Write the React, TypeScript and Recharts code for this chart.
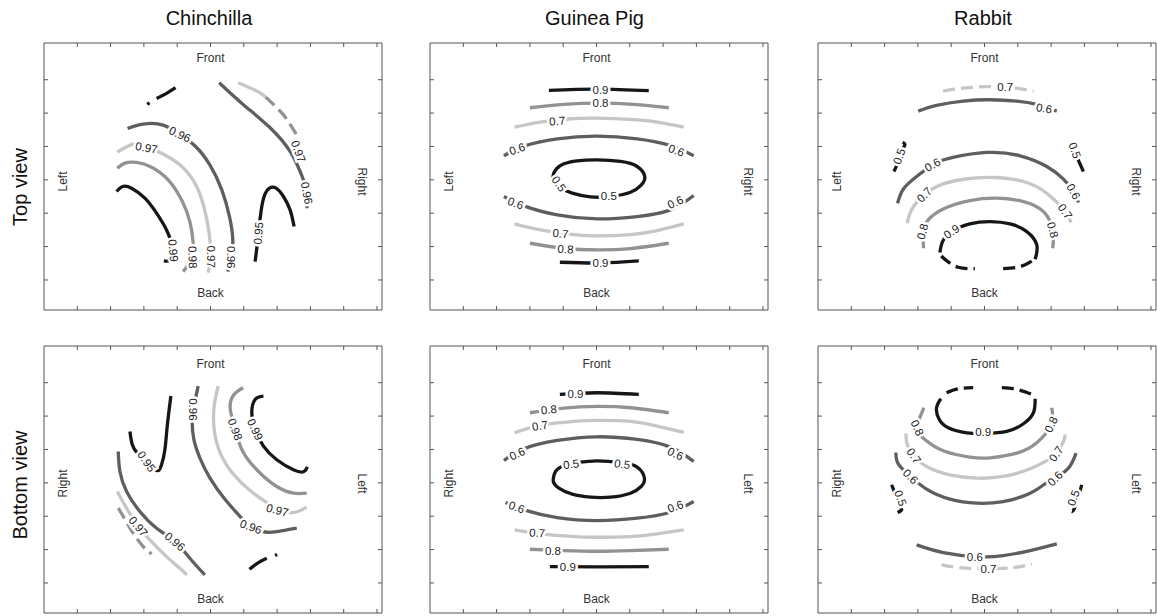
import { ScatterChart, Scatter, XAxis, YAxis } from "recharts"

// frame ticks (data units, one tick every 33.3px)
const xTicks = [1, 2, 3, 4, 5, 6, 7, 8, 9, 10]
const yTicks = [0.9, 1.9, 2.9, 3.9, 4.9, 5.9, 6.9]

const titles = ["Chinchilla", "Guinea Pig", "Rabbit"]
const rowNames = ["Top view", "Bottom view"]

const topSides: [string, number, number, number][] = [
  ["Front", 5.0, 7.55, 0], ["Back", 5.0, 0.5, 0], ["Left", 0.58, 3.85, -90], ["Right", 9.55, 3.85, 90],
]
const bottomSides: [string, number, number, number][] = [
  ["Front", 5.0, 7.47, 0], ["Back", 5.0, 0.42, 0], ["Right", 0.56, 3.88, -90], ["Left", 9.55, 3.88, 90],
]

// ---- Chinchilla, top view ----
const chinTop99 = [[2.18, 3.55], [2.36, 3.70], [2.63, 3.65], [3.03, 3.35], [3.38, 2.90], [3.68, 2.40], [3.83, 2.00], [3.86, 1.70], [3.78, 1.49], [3.60, 1.47]]
const chinTop98 = [[2.20, 4.25], [2.43, 4.40], [2.78, 4.42], [3.23, 4.28], [3.73, 3.90], [4.13, 3.30], [4.38, 2.65], [4.48, 2.00], [4.44, 1.55], [4.18, 1.15]]
const chinTop97L = [[2.20, 4.73], [2.48, 4.89], [2.73, 4.98], [3.08, 4.88], [3.53, 4.70], [4.08, 4.35], [4.53, 3.80], [4.80, 3.10], [4.96, 2.30], [5.00, 1.60], [4.93, 1.12]]
const chinTop96L = [[2.51, 5.44], [2.98, 5.57], [3.58, 5.54], [4.08, 5.26], [4.53, 4.92], [4.98, 4.35], [5.34, 3.60], [5.57, 2.80], [5.67, 2.10], [5.62, 1.55], [5.52, 1.15]]
const chinTop96R = [[5.26, 6.81], [5.98, 6.16], [6.79, 5.46], [7.39, 4.75], [7.69, 4.15], [7.86, 3.65], [7.90, 3.05]]
const chinTop97R = [[5.83, 6.81], [6.39, 6.56], [6.66, 6.38]]
const chinTop98R = [[6.66, 6.38], [6.89, 6.16], [7.18, 5.86], [7.39, 5.56], [7.57, 5.26], [7.66, 4.95]]
const chinTop95 = [[6.34, 1.45], [6.39, 1.85], [6.44, 2.30], [6.51, 2.90], [6.61, 3.40], [6.77, 3.65], [6.97, 3.65], [7.19, 3.40], [7.39, 3.00], [7.51, 2.50]]
const chinTopSpeck = [[3.38, 6.34], [3.68, 6.49], [3.95, 6.66]]
const chinTopDot = [[3.10, 6.16], [3.17, 6.21]]
const chinTopLabels: [string, number, number, number][] = [
  ["0.96", 4.08, 5.26, 25], ["0.97", 3.08, 4.86, 10], ["0.99", 3.88, 1.78, 85], ["0.98", 4.46, 1.58, 88],
  ["0.97", 5.02, 1.60, 90], ["0.96", 5.62, 1.58, 90], ["0.95", 6.44, 2.30, -85], ["0.97", 7.64, 4.75, 70],
  ["0.96", 7.89, 3.50, 80],
]

// ---- Chinchilla, bottom view ----
const chinBot95 = [[2.58, 5.44], [2.65, 5.05], [2.80, 4.80], [3.08, 4.54], [3.38, 4.27], [3.53, 4.44], [3.63, 4.89], [3.70, 5.59], [3.81, 6.50]]
const chinBot96T = [[4.63, 6.80], [4.53, 6.35], [4.48, 6.10], [4.45, 5.75], [4.50, 5.20], [4.68, 4.65], [4.98, 4.05], [5.44, 3.40], [5.89, 2.89], [6.21, 2.58], [6.69, 2.42], [7.19, 2.47], [7.59, 2.54]]
const chinBot97T = [[5.23, 6.80], [5.11, 6.20], [5.11, 5.50], [5.29, 4.80], [5.68, 4.17], [6.19, 3.67], [6.64, 3.34], [7.01, 3.12], [7.49, 3.01], [7.89, 3.17]]
const chinBot98 = [[5.98, 6.75], [5.71, 6.55], [5.59, 6.15], [5.74, 5.50], [5.97, 4.84], [6.44, 4.24], [6.99, 3.79], [7.49, 3.59], [7.89, 3.59]]
const chinBot99 = [[6.59, 6.50], [6.34, 6.40], [6.24, 6.00], [6.34, 5.50], [6.59, 5.00], [6.99, 4.59], [7.49, 4.29], [7.79, 4.23], [7.91, 4.38]]
const chinBot96B = [[2.23, 4.84], [2.28, 4.24], [2.48, 3.64], [2.88, 3.04], [3.38, 2.54], [3.93, 2.14], [4.38, 1.64], [4.83, 1.14]]
const chinBot97B = [[2.20, 3.64], [2.38, 3.31], [2.63, 2.89], [2.83, 2.59], [3.18, 2.19], [3.68, 1.69], [4.08, 1.34], [4.29, 1.14]]
const chinBot98B = [[2.23, 3.14], [2.43, 2.81], [2.68, 2.39], [2.98, 1.99], [3.23, 1.77]]
const chinBotSpeck = [[6.17, 1.31], [6.44, 1.51], [6.69, 1.64]]
const chinBotDot = [[6.94, 1.72], [7.00, 1.75]]
const chinBotLabels: [string, number, number, number][] = [
  ["0.95", 3.08, 4.54, 55], ["0.96", 4.48, 6.10, 90], ["0.98", 5.74, 5.50, 70], ["0.99", 6.34, 5.50, 65],
  ["0.97", 7.01, 3.08, 15], ["0.96", 6.21, 2.58, 20], ["0.97", 2.83, 2.59, 50], ["0.96", 3.93, 2.14, 40],
]

// ---- Guinea pig, top view ----
const gpTop90a = [[3.57, 6.58], [5.05, 6.62], [6.57, 6.57]]
const gpTop80a = [[3.00, 6.06], [4.02, 6.16], [5.07, 6.20], [6.12, 6.16], [7.17, 6.06]]
const gpTop70a = [[2.54, 5.48], [3.32, 5.63], [4.22, 5.73], [5.02, 5.75], [6.02, 5.71], [6.82, 5.63], [7.62, 5.48]]
const gpTop60a = [[2.22, 4.62], [2.82, 4.91], [3.82, 5.13], [5.02, 5.21], [6.22, 5.13], [7.22, 4.93], [7.92, 4.62]]
const gpTop50 = [[3.74, 3.82], [3.69, 4.00], [3.79, 4.22], [4.02, 4.38], [4.42, 4.47], [5.02, 4.50], [5.72, 4.45], [6.22, 4.30], [6.45, 4.00], [6.34, 3.74], [6.02, 3.53], [5.42, 3.40], [4.82, 3.39], [4.27, 3.50], [3.92, 3.66], [3.74, 3.82]]
const gpTop60b = [[2.22, 3.40], [2.82, 3.12], [3.82, 2.85], [5.02, 2.73], [6.22, 2.80], [7.22, 3.00], [7.92, 3.43]]
const gpTop70b = [[2.54, 2.58], [3.32, 2.40], [4.32, 2.26], [5.02, 2.22], [6.02, 2.26], [6.82, 2.38], [7.62, 2.58]]
const gpTop80b = [[3.00, 2.00], [4.02, 1.85], [5.02, 1.80], [6.02, 1.84], [7.17, 2.00]]
const gpTop90b = [[3.90, 1.43], [5.12, 1.41], [6.27, 1.47]]
const gpTopLabels: [string, number, number, number][] = [
  ["0.9", 5.12, 6.60, 0], ["0.8", 5.12, 6.19, 0], ["0.7", 3.82, 5.66, -5], ["0.6", 2.62, 4.82, -20],
  ["0.6", 7.40, 4.78, 20], ["0.5", 3.87, 3.78, 55], ["0.5", 5.37, 3.42, 0], ["0.6", 2.57, 3.20, 20],
  ["0.6", 7.37, 3.23, -25], ["0.7", 3.92, 2.29, 5], ["0.8", 4.07, 1.82, 3], ["0.9", 5.12, 1.42, 0],
]

// ---- Guinea pig, bottom view ----
const gpBot90a = [[3.90, 6.55], [5.02, 6.60], [6.27, 6.55]]
const gpBot80a = [[3.00, 6.00], [4.02, 6.14], [5.02, 6.19], [6.02, 6.15], [7.17, 6.00]]
const gpBot70a = [[2.54, 5.40], [3.32, 5.62], [4.32, 5.74], [5.02, 5.77], [6.02, 5.74], [6.82, 5.60], [7.62, 5.41]]
const gpBot60a = [[2.22, 4.57], [2.82, 4.92], [3.82, 5.17], [5.02, 5.28], [6.22, 5.20], [7.22, 4.97], [7.92, 4.54]]
const gpBot50 = [[4.42, 4.51], [5.02, 4.56], [5.72, 4.51], [6.22, 4.37], [6.44, 4.04], [6.34, 3.79], [6.02, 3.59], [5.42, 3.47], [4.82, 3.47], [4.27, 3.56], [3.87, 3.74], [3.72, 3.89], [3.70, 4.01], [3.77, 4.24], [4.02, 4.41], [4.42, 4.51]]
const gpBot60b = [[2.27, 3.31], [2.82, 3.09], [3.82, 2.86], [5.02, 2.77], [6.22, 2.84], [7.22, 3.02], [7.92, 3.34]]
const gpBot70b = [[2.54, 2.49], [3.32, 2.37], [4.32, 2.29], [5.02, 2.27], [6.02, 2.29], [6.82, 2.37], [7.62, 2.49]]
const gpBot80b = [[3.00, 1.91], [4.02, 1.87], [5.02, 1.85], [6.02, 1.87], [7.17, 1.91]]
const gpBot90b = [[3.60, 1.39], [5.07, 1.38], [6.57, 1.39]]
const gpBotLabels: [string, number, number, number][] = [
  ["0.9", 4.37, 6.57, 0], ["0.8", 3.57, 6.09, -5], ["0.7", 3.30, 5.61, -10], ["0.6", 2.62, 4.77, -25],
  ["0.6", 7.37, 4.77, 25], ["0.5", 4.24, 4.46, -8], ["0.5", 5.77, 4.46, 8], ["0.6", 2.60, 3.17, 20],
  ["0.6", 7.37, 3.19, -20], ["0.7", 3.22, 2.40, 3], ["0.8", 3.69, 1.87, 0], ["0.9", 4.14, 1.39, 0],
]

// ---- Rabbit, top view ----
const rbTop70a = [[3.76, 6.56], [4.36, 6.65], [5.07, 6.69], [5.77, 6.67], [6.47, 6.56]]
const rbTop60a = [[3.01, 5.96], [3.56, 6.13], [4.36, 6.26], [5.17, 6.30], [5.97, 6.26], [6.57, 6.16], [7.17, 5.96]]
const rbTop50L = [[2.28, 4.15], [2.41, 4.45], [2.51, 4.75], [2.61, 4.95], [2.54, 5.02]]
const rbTop50R = [[7.65, 4.95], [7.77, 4.60], [7.97, 4.15]]
const rbTop60b = [[2.39, 3.20], [2.56, 3.62], [2.96, 4.00], [3.44, 4.35], [3.96, 4.55], [5.07, 4.72], [6.07, 4.62], [6.87, 4.30], [7.37, 3.92], [7.67, 3.55], [7.82, 3.22]]
const rbTop70b = [[2.68, 2.60], [2.81, 3.00], [3.19, 3.45], [3.76, 3.78], [4.56, 3.94], [5.37, 3.97], [6.17, 3.85], [6.87, 3.50], [7.42, 2.95], [7.60, 2.62]]
const rbTop80 = [[3.17, 1.85], [3.16, 2.30], [3.31, 2.70], [3.81, 3.05], [4.56, 3.28], [5.37, 3.35], [6.17, 3.25], [6.77, 2.95], [7.05, 2.40], [7.05, 1.85]]
const rbTop90 = [[3.66, 1.72], [3.74, 2.05], [4.01, 2.35], [4.56, 2.58], [5.17, 2.65], [5.77, 2.58], [6.27, 2.35], [6.57, 1.95], [6.52, 1.52]]
const rbTop90dL = [[3.70, 1.62], [3.86, 1.48], [4.21, 1.28], [4.71, 1.24]]
const rbTop90dR = [[5.56, 1.24], [6.07, 1.30], [6.47, 1.50]]
const rbTopLabels: [string, number, number, number][] = [
  ["0.7", 5.62, 6.69, 0], ["0.6", 6.79, 6.04, 10], ["0.5", 2.44, 4.60, -70], ["0.5", 7.71, 4.78, 70],
  ["0.6", 3.44, 4.35, -30], ["0.6", 7.67, 3.55, 60], ["0.7", 3.19, 3.45, -45], ["0.7", 7.42, 2.95, 55],
  ["0.8", 3.14, 2.35, -75], ["0.8", 7.05, 2.40, 75], ["0.9", 4.01, 2.35, -35],
]

// ---- Rabbit, bottom view ----
const rbBot90 = [[3.69, 6.42], [3.56, 6.15], [3.63, 5.82], [3.91, 5.55], [4.47, 5.40], [5.02, 5.38], [5.67, 5.44], [6.17, 5.67], [6.47, 6.00], [6.52, 6.42]]
const rbBot90dL = [[3.86, 6.60], [4.21, 6.72], [4.66, 6.75]]
const rbBot90dR = [[5.52, 6.75], [5.97, 6.70], [6.42, 6.55]]
const rbBot80 = [[3.18, 6.15], [2.98, 5.55], [3.21, 5.20], [3.76, 4.86], [4.56, 4.67], [5.17, 4.65], [5.97, 4.79], [6.57, 5.10], [7.00, 5.65], [7.02, 6.15]]
const rbBot70 = [[2.64, 5.38], [2.68, 5.05], [2.88, 4.71], [3.26, 4.39], [3.96, 4.14], [4.77, 4.04], [5.56, 4.09], [6.37, 4.32], [6.92, 4.59], [7.15, 4.77], [7.37, 5.14], [7.42, 5.35]]
const rbBot60a = [[2.34, 4.81], [2.41, 4.47], [2.78, 4.09], [3.26, 3.71], [3.96, 3.41], [4.77, 3.29], [5.56, 3.34], [6.37, 3.59], [6.87, 3.91], [7.12, 4.05], [7.52, 4.34], [7.75, 4.79]]
const rbBot50L = [[2.21, 3.84], [2.31, 3.59], [2.44, 3.24], [2.51, 3.09], [2.39, 3.01]]
const rbBot50R = [[7.92, 3.84], [7.82, 3.49], [7.69, 3.11], [7.62, 3.04]]
const rbBot60b = [[2.96, 2.04], [3.76, 1.81], [4.77, 1.69], [5.56, 1.72], [6.37, 1.87], [7.17, 2.07]]
const rbBot70b = [[3.71, 1.44], [4.26, 1.36], [5.07, 1.33], [5.86, 1.36], [6.42, 1.47]]
const rbBotLabels: [string, number, number, number][] = [
  ["0.9", 4.96, 5.41, 0], ["0.8", 2.98, 5.55, 65], ["0.8", 7.00, 5.65, -65], ["0.7", 2.88, 4.71, 55],
  ["0.7", 7.15, 4.77, -55], ["0.6", 2.78, 4.09, 45], ["0.6", 7.12, 4.03, -45], ["0.5", 2.48, 3.44, 70],
  ["0.5", 7.67, 3.45, -70], ["0.6", 4.71, 1.69, 0], ["0.7", 5.12, 1.33, 0],
]

type Line = [number, number[][]]

const panels = [
  {
    lines: [[0.99, chinTop99], [0.98, chinTop98], [0.97, chinTop97L], [0.96, chinTop96L], [0.96, chinTop96R],
      [0.97, chinTop97R], [0.95, chinTop95], [0.95, chinTopSpeck], [0.95, chinTopDot]] as Line[],
    dashed: [[0.98, chinTop98R]] as Line[],
    labels: chinTopLabels, sides: topSides,
  },
  {
    lines: [[0.9, gpTop90a], [0.8, gpTop80a], [0.7, gpTop70a], [0.6, gpTop60a], [0.5, gpTop50],
      [0.6, gpTop60b], [0.7, gpTop70b], [0.8, gpTop80b], [0.9, gpTop90b]] as Line[],
    dashed: [] as Line[],
    labels: gpTopLabels, sides: topSides,
  },
  {
    lines: [[0.6, rbTop60a], [0.5, rbTop50L], [0.5, rbTop50R], [0.6, rbTop60b], [0.7, rbTop70b],
      [0.8, rbTop80], [0.9, rbTop90]] as Line[],
    dashed: [[0.7, rbTop70a], [0.9, rbTop90dL], [0.9, rbTop90dR]] as Line[],
    labels: rbTopLabels, sides: topSides,
  },
  {
    lines: [[0.95, chinBot95], [0.96, chinBot96T], [0.97, chinBot97T], [0.98, chinBot98], [0.99, chinBot99],
      [0.96, chinBot96B], [0.97, chinBot97B], [0.95, chinBotSpeck], [0.95, chinBotDot]] as Line[],
    dashed: [[0.98, chinBot98B]] as Line[],
    labels: chinBotLabels, sides: bottomSides,
  },
  {
    lines: [[0.9, gpBot90a], [0.8, gpBot80a], [0.7, gpBot70a], [0.6, gpBot60a], [0.5, gpBot50],
      [0.6, gpBot60b], [0.7, gpBot70b], [0.8, gpBot80b], [0.9, gpBot90b]] as Line[],
    dashed: [] as Line[],
    labels: gpBotLabels, sides: bottomSides,
  },
  {
    lines: [[0.9, rbBot90], [0.8, rbBot80], [0.7, rbBot70], [0.6, rbBot60a], [0.5, rbBot50L],
      [0.5, rbBot50R], [0.6, rbBot60b]] as Line[],
    dashed: [[0.9, rbBot90dL], [0.9, rbBot90dR], [0.7, rbBot70b]] as Line[],
    labels: rbBotLabels, sides: bottomSides,
  },
]

const LEVEL_COLOR: Record<string, string> = {
  "0.5": "#161616", "0.6": "#5e5e5e", "0.7": "#c6c6c6", "0.8": "#929292", "0.9": "#161616",
  "0.95": "#161616", "0.96": "#5e5e5e", "0.97": "#c6c6c6", "0.98": "#929292", "0.99": "#161616",
}

const FONT = "'Liberation Sans', Arial, sans-serif"
const W = 338
const H = 267
const XMAX = 10.15
const YMAX = 8
const COL_X = [44, 429.5, 818]
const ROW_Y = [43.3, 346.3]

const toPts = (a: number[][]) => a.map(([x, y]) => ({ x, y }))
const toLabels = (a: [string, number, number, number][]) => a.map(([t, x, y, r]) => ({ t, x, y, r }))

const noTick = () => <g />
const noDot = () => <g />

const contourText = (p: any) => {
  const d = p.payload ?? p
  return (
    <text
      x={p.cx} y={p.cy} transform={`rotate(${d.r} ${p.cx} ${p.cy})`}
      textAnchor="middle" dominantBaseline="central"
      fontSize={11.5} fontFamily={FONT} fill="#222"
      stroke="#fff" strokeWidth={5} paintOrder="stroke"
    >
      {d.t}
    </text>
  )
}

const sideText = (p: any) => {
  const d = p.payload ?? p
  return (
    <text
      x={p.cx} y={p.cy} transform={`rotate(${d.r} ${p.cx} ${p.cy})`}
      textAnchor="middle" dominantBaseline="central"
      fontSize={12} fontFamily={FONT} fill="#333"
    >
      {d.t}
    </text>
  )
}

function Panel({ left, top, panel }: { left: number; top: number; panel: (typeof panels)[number] }) {
  const axisProps = { stroke: "#555", tickSize: -4, tick: noTick, interval: 0 as const, allowDataOverflow: true }
  return (
    <div style={{ position: "absolute", left: left - 1, top: top - 1 }}>
      <ScatterChart width={W + 2} height={H + 2} margin={{ top: 0, right: 0, bottom: 0, left: 0 }}>
        <XAxis xAxisId="b" type="number" dataKey="x" domain={[0, XMAX]} ticks={xTicks} height={1} {...axisProps} />
        <XAxis xAxisId="t" orientation="top" type="number" dataKey="x" domain={[0, XMAX]} ticks={xTicks} height={1} {...axisProps} />
        <YAxis yAxisId="l" type="number" dataKey="y" domain={[0, YMAX]} ticks={yTicks} width={1} {...axisProps} />
        <YAxis yAxisId="r" orientation="right" type="number" dataKey="y" domain={[0, YMAX]} ticks={yTicks} width={1} {...axisProps} />
        {panel.lines.map(([lv, p], i) => (
          <Scatter
            key={"c" + i} xAxisId="b" yAxisId="l" data={toPts(p)} fill="none"
            line={{ stroke: LEVEL_COLOR[String(lv)], strokeWidth: 3.3 }}
            lineType="joint" lineJointType="natural" shape={noDot} isAnimationActive={false}
          />
        ))}
        {panel.dashed.map(([lv, p], i) => (
          <Scatter
            key={"d" + i} xAxisId="b" yAxisId="l" data={toPts(p)} fill="none"
            line={{ stroke: LEVEL_COLOR[String(lv)], strokeWidth: 3.3, strokeDasharray: "12 6" }}
            lineType="joint" lineJointType="natural" shape={noDot} isAnimationActive={false}
          />
        ))}
        <Scatter xAxisId="b" yAxisId="l" data={toLabels(panel.labels)} shape={contourText} isAnimationActive={false} />
        <Scatter xAxisId="b" yAxisId="l" data={toLabels(panel.sides)} shape={sideText} isAnimationActive={false} />
      </ScatterChart>
    </div>
  )
}

export default function App() {
  return (
    <div style={{ position: "absolute", left: 0, top: 0, width: 1157, height: 616, background: "#fff", fontFamily: FONT }}>
      <svg width={1157} height={616} style={{ position: "absolute", left: 0, top: 0 }}>
        {titles.map((t, i) => (
          <text key={t} x={COL_X[i] + W / 2 - 4} y={25} textAnchor="middle" fontSize={20} fontFamily={FONT} fill="#111">{t}</text>
        ))}
        {rowNames.map((t, i) => {
          const cy = i === 0 ? 187 : 485
          return (
            <text key={t} x={27} y={cy} transform={`rotate(-90 27 ${cy})`} textAnchor="middle" fontSize={20} fontFamily={FONT} fill="#111">{t}</text>
          )
        })}
      </svg>
      {panels.map((p, i) => (
        <Panel key={i} left={COL_X[i % 3]} top={ROW_Y[Math.floor(i / 3)]} panel={p} />
      ))}
    </div>
  )
}
